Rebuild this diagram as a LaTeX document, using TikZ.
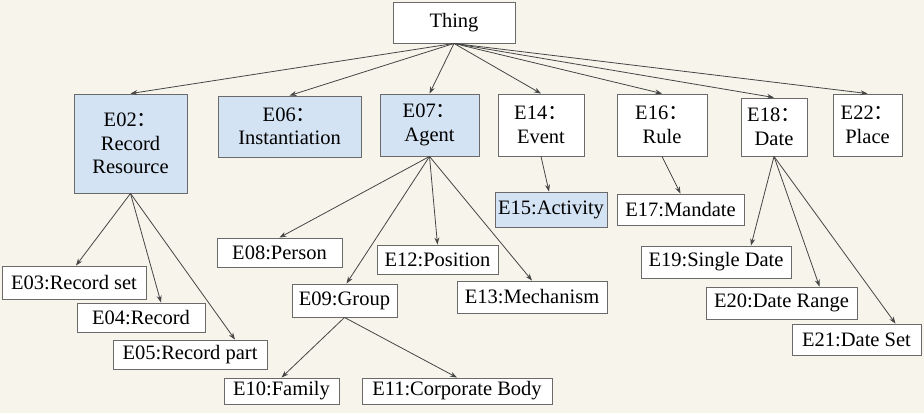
\documentclass[tikz,border=0pt]{standalone}
\usepackage{fontspec}
\setmainfont{Liberation Serif}
\newfontfamily\cjkfnt{Noto Sans CJK SC}
\usetikzlibrary{arrows.meta}
\newcommand{\fc}{{\cjkfnt ：}}
\definecolor{bgcol}{HTML}{F6F4EB}
\definecolor{bordercol}{HTML}{6A6A6A}
\definecolor{boxblue}{HTML}{D4E3F3}
\definecolor{arrowcol}{HTML}{454545}
\begin{document}
\begin{tikzpicture}[x=1pt,y=-1pt,
  box/.style={draw=bordercol, line width=0.9pt, fill=white, inner sep=0pt, align=center,
    font=\fontsize{20.5}{23.5}\selectfont},
  bluebox/.style={box, fill=boxblue},
  link/.style={draw=arrowcol, line width=0.8pt, -{Stealth[length=7pt,width=5pt]}}]
\fill[bgcol] (0,0) rectangle (924,413);
\useasboundingbox (0,0) rectangle (924,413);

% top
\node[box, minimum width=122pt, minimum height=41pt] (thing) at (454,22.5) {Thing};

% level 1
\node[bluebox, minimum width=113pt, minimum height=99pt] (e02) at (130.5,143.5) {E02\fc\\Record\\Resource};
\node[bluebox, minimum width=143pt, minimum height=61pt] (e06) at (289.5,126.5) {E06\fc\\Instantiation};
\node[bluebox, minimum width=99pt, minimum height=62pt] (e07) at (429.5,125) {E07\fc\\Agent};
\node[box, minimum width=86pt, minimum height=62pt] (e14) at (541,125) {E14\fc\\Event};
\node[box, minimum width=90pt, minimum height=62pt] (e16) at (662,125) {E16\fc\\Rule};
\node[box, minimum width=66pt, minimum height=58pt] (e18) at (774,127) {E18\fc\\Date};
\node[box, minimum width=69pt, minimum height=62pt] (e22) at (867.5,125) {E22\fc\\Place};

% level 2
\node[bluebox, minimum width=112pt, minimum height=35pt] (e15) at (551,209.5) {E15:Activity};
\node[box, minimum width=127pt, minimum height=31pt] (e17) at (680.5,209.5) {E17:Mandate};
\node[box, minimum width=150pt, minimum height=32pt] (e19) at (716,262) {E19:Single Date};
\node[box, minimum width=151pt, minimum height=32pt] (e20) at (781.5,303) {E20:Date Range};
\node[box, minimum width=129pt, minimum height=31pt] (e21) at (856.5,339.5) {E21:Date Set};
\node[box, minimum width=144pt, minimum height=33pt] (e03) at (74,282.5) {E03:Record set};
\node[box, minimum width=128pt, minimum height=29pt] (e04) at (141,317.5) {E04:Record};
\node[box, minimum width=154pt, minimum height=29pt] (e05) at (190,354.5) {E05:Record part};
\node[box, minimum width=125pt, minimum height=29pt] (e08) at (279.5,252.5) {E08:Person};
\node[box, minimum width=121pt, minimum height=29pt] (e12) at (437.5,259.5) {E12:Position};
\node[box, minimum width=150pt, minimum height=32pt] (e13) at (532,297) {E13:Mechanism};
\node[box, minimum width=105pt, minimum height=33pt] (e09) at (344.5,300.5) {E09:Group};
\node[box, minimum width=115pt, minimum height=26pt] (e10) at (281.5,391) {E10:Family};
\node[box, minimum width=190pt, minimum height=26pt] (e11) at (457,391) {E11:Corporate Body};

% connectors from Thing
\foreach \t in {e02,e06,e07,e14,e16,e18,e22}
  \draw[link] (thing.south) -- (\t.north);

% E02 children
\draw[link] (e02.south) -- ([xshift=2pt]e03.north);
\draw[link] (e02.south) -- ([xshift=20pt]e04.north);
\draw[link] (e02.south) -- ([xshift=45pt]e05.north);

% E07 children
\draw[link] (e07.south) -- (e08.north);
\draw[link] (e07.south) -- ([xshift=2pt]e09.north);
\draw[link] (e07.south) -- (e12.north);
\draw[link] (e07.south) -- (e13.north);

% E09 children
\draw[link] (e09.south) -- (e10.north);
\draw[link] (e09.south) -- (e11.north);

% E14, E16
\draw[link] (e14.south) -- ([xshift=-2pt]e15.north);
\draw[link] (e16.south) -- (e17.north);

% E18 children
\draw[link] (e18.south) -- ([xshift=35pt]e19.north);
\draw[link] (e18.south) -- ([xshift=38pt]e20.north);
\draw[link] (e18.south) -- ([xshift=39pt]e21.north);
\end{tikzpicture}
\end{document}
